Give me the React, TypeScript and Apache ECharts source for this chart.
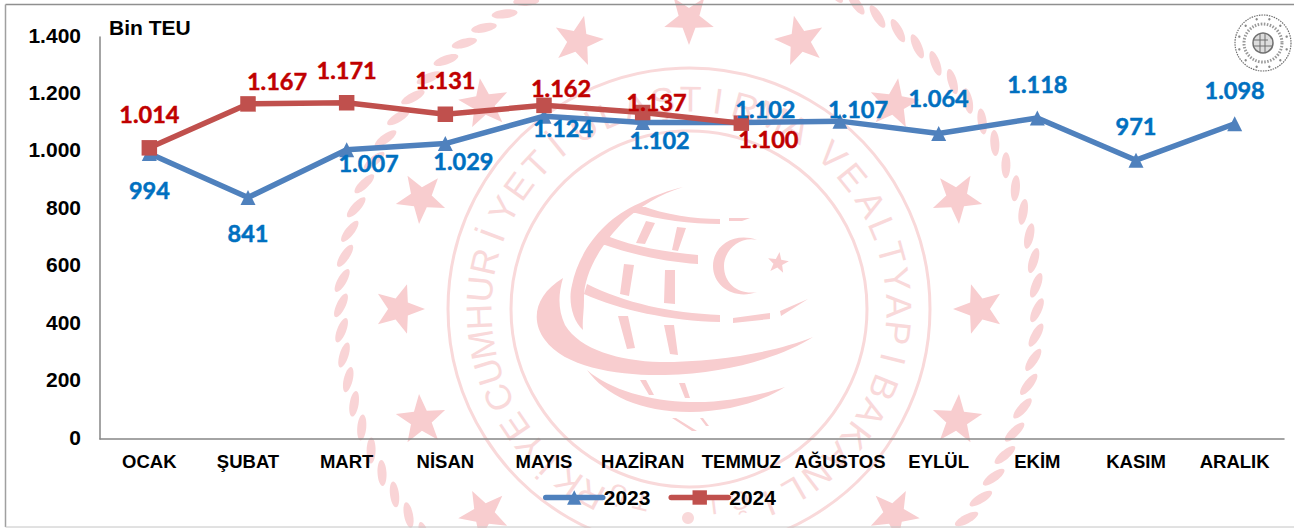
import React, { useEffect, useRef } from "react";
import * as echarts from "echarts";

const months = ["OCAK", "ŞUBAT", "MART", "NİSAN", "MAYIS", "HAZİRAN", "TEMMUZ", "AĞUSTOS", "EYLÜL", "EKİM", "KASIM", "ARALIK"];
const values2023 = [994, 841, 1007, 1029, 1124, 1102, 1102, 1107, 1064, 1118, 971, 1098];
const values2024 = [1014, 1167, 1171, 1131, 1162, 1137, 1100];
const labelOffsets2023 = [[0, 36], [0, 35], [22, 13], [18, 17], [19, 12], [17, 17], [24, -14], [18, -12], [0, -35], [0, -34], [0, -34], [0, -34]];
const labelOffsets2024 = [[0, -34], [29, -23], [0, -33], [0, -34], [17, -17], [14, -11], [27, 16]];

const SEAL_X = 689;
const SEAL_Y = 309;
const PINK = "#f8cdcf";
const PINK_LIGHT = "#f9d9da";

const globePath =
  "M563 278 C535 295 530 320 545 340 C565 368 620 376 665 375 C730 374 785 355 813 337 C775 352 720 362 660 362 C620 361 580 350 565 325 C558 310 558 295 563 278 Z " +
  "M583 330 C572 320 568 300 572 285 C578 255 600 220 640 203 C655 195 670 190 683 187 C660 194 640 207 625 220 C600 245 583 275 584 300 C584 312 582 322 583 330 Z " +
  "M640 205 C665 215 695 219 720 219 L720 224 C690 224 660 220 632 212 Z M729 218 L750 218 L742 221 L729 221 Z " +
  "M607 236 C635 247 665 252 698 255 L698 264 C665 262 630 254 602 244 Z " +
  "M587 284 C625 303 670 313 720 315 L720 322 C670 321 620 310 584 294 Z M733 318 L770 313 L770 319 L733 323 Z M780 311 L808 299 L781 316 Z " +
  "M646 221 L655 223 L645 244 L636 243 Z M677 227 L686 228 L678 251 L672 250 Z " +
  "M624 264 L634 265 L629 296 L620 294 Z M665 270 L675 270 L675 304 L664 303 Z " +
  "M618 316 L628 316 L635 348 L627 349 Z M664 325 L674 325 L678 355 L670 354 Z " +
  "M757 240 C735 232 713 245 713 266 C713 287 735 300 757 292 C740 295 724 285 724 266 C724 250 740 236 757 240 Z " +
  "M587 370 C605 395 640 412 690 412 C730 412 765 400 785 387 C760 395 725 403 690 402 C650 401 610 390 587 370 Z " +
  "M640 380 L646 380 L654 395 L649 395 Z M679 383 L685 383 L690 398 L685 398 Z " +
  "M672 418 L676 418 L697 431 L692 431 Z M700 418 L703 418 L709 426 L706 426 Z";
echarts.graphic.registerShape("sealGlobe", echarts.graphic.extendPath(globePath, {}));

const sealWords: [string, number, number][] = [
  ["TÜRKİYE", 194, 7],
  ["CUMHURİYETİ", 245, 7.6],
  ["ULAŞTIRMA", 330, 7.6],
  ["VE", 43, 8],
  ["ALTYAPI", 60, 7.3],
  ["BAKANLIĞI", 112, 7.6],
];

const starPoints = (cx: number, cy: number, r: number, angle: number) => {
  const pts: number[][] = [];
  for (let i = 0; i < 10; i++) {
    const rad = i % 2 === 0 ? r : r * 0.42;
    const a = angle + (i * Math.PI) / 5;
    pts.push([cx + rad * Math.sin(a), cy - rad * Math.cos(a)]);
  }
  return pts;
};

const buildWatermark = () => {
  const els: any[] = [];
  for (let d = 0; d < 360; d += 4.1) {
    const t = (d * Math.PI) / 180;
    els.push({
      type: "ellipse",
      x: SEAL_X + 348 * Math.sin(t),
      y: SEAL_Y - 348 * Math.cos(t),
      rotation: -(t + (25 * Math.PI) / 180),
      shape: { cx: 0, cy: 0, rx: 13, ry: 4.5 },
      style: { fill: "#f9d4d6" },
      silent: true,
    });
  }
  for (let d = 0; d < 360; d += 22.5) {
    const t = (d * Math.PI) / 180;
    els.push({
      type: "polygon",
      shape: { points: starPoints(SEAL_X + 290 * Math.sin(t), SEAL_Y - 290 * Math.cos(t), 26, t + Math.PI) },
      style: { fill: PINK },
      silent: true,
    });
  }
  [241, 178].forEach((r) =>
    els.push({
      type: "circle",
      shape: { cx: SEAL_X, cy: SEAL_Y, r },
      style: { fill: "none", stroke: PINK_LIGHT, lineWidth: 3 },
      silent: true,
    })
  );
  sealWords.forEach(([word, start, step]) => {
    Array.from(word).forEach((ch, i) => {
      const deg = (start + i * step) % 360;
      const t = (deg * Math.PI) / 180;
      const nearPageEdge = deg > 160 && deg < 205;
      const r = nearPageEdge ? 198 : 210;
      els.push({
        type: "text",
        x: SEAL_X + r * Math.sin(t),
        y: SEAL_Y - r * Math.cos(t),
        rotation: -t,
        style: {
          text: ch,
          fill: PINK_LIGHT,
          font: `${nearPageEdge ? 26 : 36}px 'Liberation Sans'`,
          align: "center",
          verticalAlign: "middle",
        },
        silent: true,
      });
    });
  });
  els.push({ type: "sealGlobe", style: { fill: PINK }, silent: true });
  els.push({ type: "polygon", shape: { points: starPoints(778, 263, 11, 1.4) }, style: { fill: PINK }, silent: true });
  els.push({ type: "circle", shape: { cx: 688, cy: 518, r: 6 }, style: { fill: PINK_LIGHT }, silent: true });
  return els;
};

const buildLogo = () => {
  const cx = 1263;
  const cy = 43;
  const grey = "#6f6f6f";
  const els: any[] = [
    { type: "circle", shape: { cx, cy, r: 28 }, style: { fill: "#fff", stroke: grey, lineWidth: 1.2, lineDash: [1.5, 1] } },
    { type: "circle", shape: { cx, cy, r: 19 }, style: { fill: "none", stroke: "#999", lineWidth: 3, lineDash: [1.5, 1.5] } },
    { type: "circle", shape: { cx, cy, r: 10 }, style: { fill: "#ddd", stroke: grey, lineWidth: 1.5 } },
    { type: "line", shape: { x1: cx - 9, y1: cy - 3, x2: cx + 5, y2: cy - 3 }, style: { stroke: grey, lineWidth: 1 } },
    { type: "line", shape: { x1: cx - 10, y1: cy + 3, x2: cx + 9, y2: cy + 3 }, style: { stroke: grey, lineWidth: 1 } },
    { type: "line", shape: { x1: cx - 3, y1: cy - 9, x2: cx - 3, y2: cy + 9 }, style: { stroke: grey, lineWidth: 1 } },
    { type: "line", shape: { x1: cx + 2, y1: cy - 9, x2: cx + 2, y2: cy + 9 }, style: { stroke: grey, lineWidth: 1 } },
  ];
  for (let d = 15; d < 360; d += 30) {
    const t = (d * Math.PI) / 180;
    els.push({
      type: "circle",
      shape: { cx: cx + 24.5 * Math.sin(t), cy: cy - 24.5 * Math.cos(t), r: 1.2 },
      style: { fill: "#888" },
    });
  }
  return els;
};

const thousands = (v: number) => (v >= 1000 ? `${Math.floor(v / 1000)}.${String(v % 1000).padStart(3, "0")}` : String(v));

const labelStyle = (color: string) => ({
  show: true,
  position: "inside" as const,
  color,
  fontFamily: "Lato",
  fontWeight: "bold" as const,
  fontSize: 23.5,
  textBorderColor: color,
  textBorderWidth: 0.5,
  formatter: (p: any) => thousands(p.value),
});

const pointsWithLabels = (values: number[], offsets: number[][]) =>
  values.map((value, i) => ({ value, label: { offset: offsets[i] } }));

export default function App() {
  const ref = useRef<HTMLDivElement>(null);
  useEffect(() => {
    const chart = echarts.init(ref.current!, null, { renderer: "svg" });
    chart.setOption({
      animation: false,
      backgroundColor: "#ffffff",
      graphic: [
        ...buildWatermark(),
        { type: "line", shape: { x1: 5.5, y1: 4.5, x2: 1294, y2: 4.5 }, style: { stroke: "#8f8f8f", lineWidth: 1.5 }, silent: true },
        { type: "line", shape: { x1: 5.5, y1: 4.5, x2: 5.5, y2: 527 }, style: { stroke: "#a0a0a0", lineWidth: 1.5 }, silent: true },
        { type: "line", shape: { x1: 5.5, y1: 527, x2: 1294, y2: 527 }, style: { stroke: "#c4c4c4", lineWidth: 1 }, silent: true },
        ...buildLogo(),
      ],
      grid: { left: 100, right: 10, top: 37, bottom: 89 },
      legend: {
        left: 543,
        top: 487,
        padding: 0,
        itemWidth: 57,
        itemHeight: 18,
        itemGap: 18,
        lineStyle: { width: 5.5, cap: "round" },
        textStyle: { color: "#000", fontFamily: "Liberation Sans", fontWeight: "bold", fontSize: 21, padding: [0, 0, 0, -4] },
        data: ["2023", "2024"],
      },
      xAxis: {
        type: "category",
        data: months,
        axisLine: { lineStyle: { color: "#868686", width: 1.5 } },
        axisTick: { show: false },
        axisLabel: {
          color: "#000",
          fontFamily: "Liberation Sans",
          fontWeight: "bold",
          fontSize: 18.5,
          margin: 13,
          interval: 0,
        },
      },
      yAxis: {
        type: "value",
        min: 0,
        max: 1400,
        interval: 200,
        name: "Bin TEU",
        nameLocation: "end",
        nameGap: -1,
        nameTextStyle: {
          color: "#000",
          fontFamily: "Liberation Sans",
          fontWeight: "bold",
          fontSize: 21,
          align: "left",
          padding: [0, 0, 0, 9],
        },
        axisLine: { show: true, lineStyle: { color: "#868686", width: 1.5 } },
        axisTick: { show: false },
        splitLine: { show: false },
        axisLabel: {
          margin: 19,
          formatter: (v: number) => `{t|${thousands(v)}}`,
          rich: {
            t: {
              color: "#000",
              fontFamily: "Liberation Sans",
              fontWeight: "bold",
              fontSize: 21,
              padding: [0, 0, 4, 0],
            },
          },
        },
      },
      series: [
        {
          name: "2023",
          type: "line",
          data: pointsWithLabels(values2023, labelOffsets2023),
          symbol: "triangle",
          symbolSize: 15,
          lineStyle: { color: "#4F81BD", width: 5.5, cap: "round" },
          itemStyle: { color: "#4F81BD" },
          label: labelStyle("#0070C0"),
        },
        {
          name: "2024",
          type: "line",
          data: pointsWithLabels(values2024, labelOffsets2024),
          symbol: "rect",
          symbolSize: 15.5,
          lineStyle: { color: "#C0504D", width: 5.5, cap: "round" },
          itemStyle: { color: "#C0504D" },
          label: labelStyle("#C00000"),
        },
      ],
    });
    return () => chart.dispose();
  }, []);
  return <div ref={ref} style={{ position: "fixed", left: 0, top: 0, width: 1294, height: 528 }} />;
}
